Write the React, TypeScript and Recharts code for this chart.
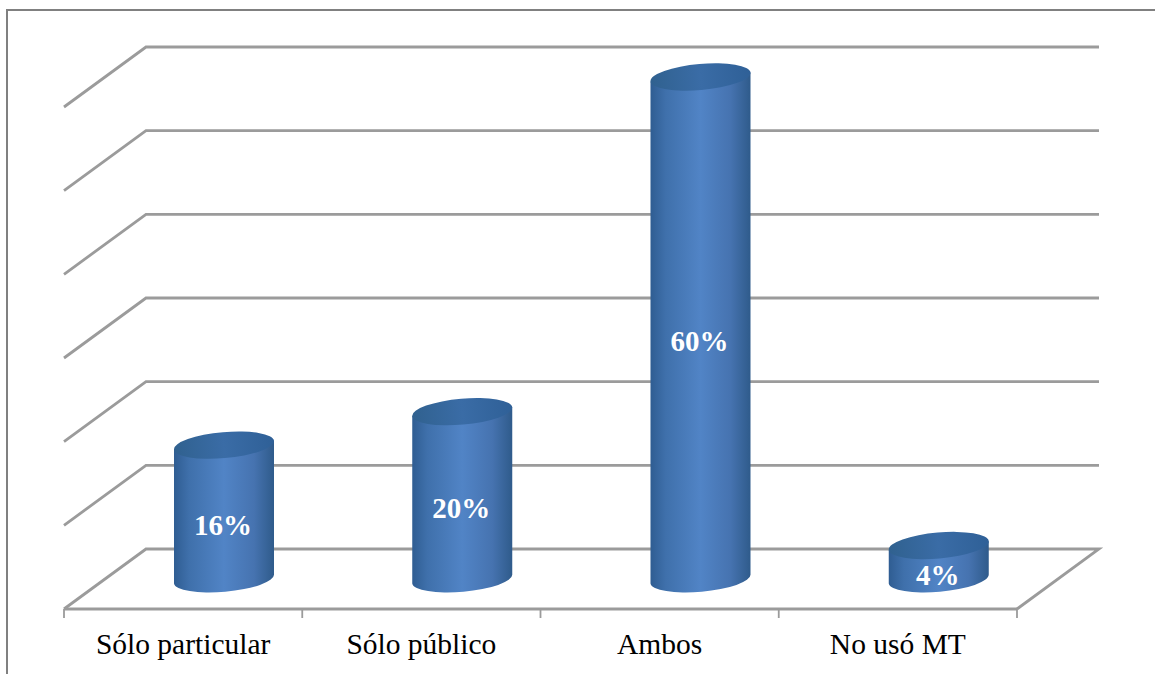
import React from "react";
import { BarChart, Bar, XAxis, YAxis, CartesianGrid, LabelList } from "recharts";

const categories = ["Sólo particular", "Sólo público", "Ambos", "No usó MT"];
const shares = [16, 20, 60, 4];
const yTicks = [0, 10, 20, 30, 40, 50, 60];

const rows = categories.map((name, i) => ({ name, share: shares[i] }));

const WIDTH = 1155;
const HEIGHT = 674;
const AXIS_HEIGHT = 65;
const MARGIN = { top: 107, right: 138, bottom: 0, left: 64 };
const BAND = (WIDTH - MARGIN.left - MARGIN.right) / categories.length;

// Oblique projection of the chart's depth
const WALL_DX = 82;
const WALL_DY = -60;
const BAR_DX = 41;
const BAR_DY = -30;

const GRID = "#9b9b9b";
const FLOOR_Y = HEIGHT - AXIS_HEIGHT;

// Gridline that climbs the side wall and runs along the back wall
function WallLine(props: any) {
  const { x1, x2, y1 } = props;
  const backY = y1 + WALL_DY;
  const isFloor = Math.abs(y1 - FLOOR_Y) < 1;
  return (
    <g>
      <polyline
        points={`${x1},${y1} ${x1 + WALL_DX},${backY} ${x2 + WALL_DX},${backY}${isFloor ? ` ${x2},${y1}` : ""}`}
        fill="none"
        stroke={GRID}
        strokeWidth={2.8}
      />
    </g>
  );
}

// Cylinder standing on the floor, with slightly tilted elliptical caps
function Cylinder(props: any) {
  const { x, y, width, height } = props;
  const left = x + BAR_DX;
  const right = left + width;
  const cx = left + width / 2;
  const topY = y + BAR_DY;
  const botY = y + height + BAR_DY;
  const rx = width / 2 + 0.2;
  const ry = 13;
  const tilt = -5;
  const lean = 4.4;
  const body = `M${left},${topY + lean} L${left},${botY + lean} A${rx},${ry} ${tilt} 0 0 ${right},${botY - lean} L${right},${topY - lean} Z`;
  return (
    <g>
      <path d={body} fill="url(#cylinderSide)" />
      <ellipse
        cx={cx}
        cy={topY}
        rx={rx}
        ry={ry}
        transform={`rotate(${tilt} ${cx} ${topY})`}
        fill="url(#cylinderCap)"
      />
    </g>
  );
}

function ShareLabel(props: any) {
  const { x, y, width, height, value } = props;
  return (
    <text
      x={x + BAR_DX + width / 2 - 1}
      y={y + height / 2 + BAR_DY + 13}
      dy="0.35em"
      textAnchor="middle"
      fill="#ffffff"
      fontFamily="'Liberation Serif', serif"
      fontWeight={700}
      fontSize={29}
    >
      {value}%
    </text>
  );
}

// Category name under the axis, with tick marks on the band boundaries
function CategoryTick(props: any) {
  const { x, payload, index } = props;
  return (
    <g>
      <line x1={x - BAND / 2} x2={x - BAND / 2} y1={FLOOR_Y} y2={FLOOR_Y + 9} stroke={GRID} strokeWidth={1.8} />
      {index === categories.length - 1 && (
        <line x1={x + BAND / 2} x2={x + BAND / 2} y1={FLOOR_Y} y2={FLOOR_Y + 9} stroke={GRID} strokeWidth={1.8} />
      )}
      <text
        x={x}
        y={FLOOR_Y + 45}
        textAnchor="middle"
        fill="#000000"
        fontFamily="'Liberation Serif', serif"
        fontSize={29.5}
      >
        {payload.value}
      </text>
    </g>
  );
}

export default function App() {
  return (
    <div style={{ position: "absolute", left: 0, top: 0, width: WIDTH, height: HEIGHT, background: "#ffffff", overflow: "hidden" }}>
      <div
        style={{
          position: "absolute",
          left: 6,
          top: 9,
          right: 0,
          bottom: 0,
          borderLeft: "2px solid #808080",
          borderTop: "2px solid #808080",
        }}
      />
      <BarChart width={WIDTH} height={HEIGHT} data={rows} margin={MARGIN} style={{ position: "absolute", left: 0, top: 0 }}>
        <defs>
          <linearGradient id="cylinderSide" x1="0" y1="0" x2="1" y2="0">
            <stop offset="0" stopColor="#2f5d92" />
            <stop offset="0.15" stopColor="#3f70ab" />
            <stop offset="0.5" stopColor="#5184c6" />
            <stop offset="0.8" stopColor="#4673b0" />
            <stop offset="1" stopColor="#2f5b8b" />
          </linearGradient>
          <linearGradient id="cylinderCap" x1="0" y1="0" x2="1" y2="0">
            <stop offset="0" stopColor="#30618f" />
            <stop offset="0.5" stopColor="#3a6ca6" />
            <stop offset="1" stopColor="#2f6097" />
          </linearGradient>
        </defs>
        <CartesianGrid vertical={false} horizontal={WallLine} />
        <YAxis hide type="number" domain={[0, 60]} ticks={yTicks} />
        <XAxis
          dataKey="name"
          height={AXIS_HEIGHT}
          axisLine={{ stroke: GRID, strokeWidth: 2.8 }}
          tickLine={false}
          tick={CategoryTick}
          interval={0}
        />
        <Bar dataKey="share" barSize={100} shape={Cylinder} isAnimationActive={false}>
          <LabelList dataKey="share" content={ShareLabel} />
        </Bar>
      </BarChart>
    </div>
  );
}
